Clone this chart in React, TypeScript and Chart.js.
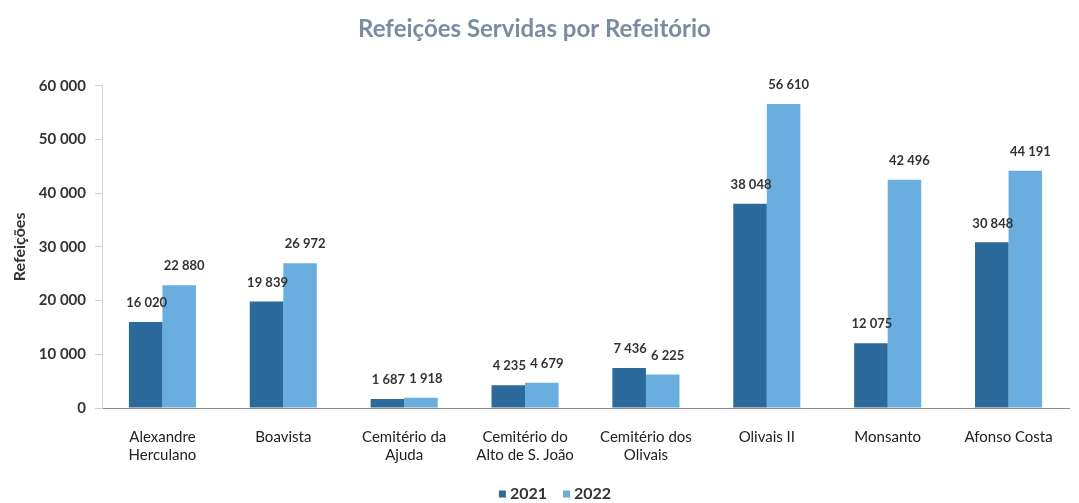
import React, { useEffect, useRef } from "react";
import { Chart, registerables } from "chart.js";

Chart.register(...registerables);

const categories: string[][] = [
  ["Alexandre", "Herculano"],
  ["Boavista"],
  ["Cemitério da", "Ajuda"],
  ["Cemitério do", "Alto de S. João"],
  ["Cemitério dos", "Olivais"],
  ["Olivais II"],
  ["Monsanto"],
  ["Afonso Costa"],
];
const values2021: number[] = [16020, 19839, 1687, 4235, 7436, 38048, 12075, 30848];
const values2022: number[] = [22880, 26972, 1918, 4679, 6225, 56610, 42496, 44191];
const seriesNames: string[] = ["2021", "2022"];
const yTicks: number[] = [0, 10000, 20000, 30000, 40000, 50000, 60000];

const FONT = "Lato, 'Open Sans', sans-serif";
const fmt = (v: number) => String(Math.round(v)).replace(/\B(?=(\d{3})+(?!\d))/g, " ");

const valueLabels = {
  id: "valueLabels",
  afterDatasetsDraw(chart: any) {
    const ctx = chart.ctx;
    ctx.save();
    ctx.font = `bold 13px ${FONT}`;
    ctx.fillStyle = "#333333";
    ctx.textAlign = "center";
    ctx.textBaseline = "middle";
    chart.data.datasets.forEach((ds: any, i: number) => {
      const meta = chart.getDatasetMeta(i);
      meta.data.forEach((el: any, j: number) => {
        const dx = i === 0 ? 1 : 5;
        ctx.fillText(fmt(ds.data[j]), el.x + dx, el.y - 19);
      });
    });
    ctx.restore();
  },
};

// Legend drawn in the canvas below the x labels
const customLegend = {
  id: "customLegend",
  afterDraw(chart: any) {
    const ctx = chart.ctx;
    ctx.save();
    ctx.font = `bold 16px ${FONT}`;
    ctx.textBaseline = "middle";
    ctx.textAlign = "left";
    const box = 7;
    const gapBox = 4;
    const gapItem = 16;
    const items = chart.data.datasets.map((ds: any) => ({
      text: ds.label,
      color: ds.backgroundColor,
      w: box + gapBox + ctx.measureText(ds.label).width,
    }));
    const total = items.reduce((a: number, it: any) => a + it.w, 0) + gapItem * (items.length - 1);
    let x = 555 - total / 2;
    const y = 494;
    items.forEach((it: any) => {
      ctx.fillStyle = it.color;
      ctx.fillRect(x, y - box / 2, box, box);
      ctx.fillStyle = "#333333";
      ctx.fillText(it.text, x + box + gapBox, y);
      x += it.w + gapItem;
    });
    ctx.restore();
  },
};

export default function App() {
  const ref = useRef<HTMLCanvasElement | null>(null);
  useEffect(() => {
    if (!ref.current) return;
    const chart = new Chart(ref.current, {
      type: "bar",
      data: {
        labels: categories,
        datasets: [
          {
            label: seriesNames[0],
            data: values2021,
            backgroundColor: "#2b6a9a",
            barPercentage: 1,
            categoryPercentage: 0.555,
          },
          {
            label: seriesNames[1],
            data: values2022,
            backgroundColor: "#6aaee0",
            barPercentage: 1,
            categoryPercentage: 0.555,
          },
        ],
      },
      options: {
        animation: false,
        responsive: false,
        maintainAspectRatio: false,
        layout: { padding: { left: 0, right: 10, top: 0, bottom: 27 } },
        plugins: {
          title: {
            display: true,
            text: "Refeições Servidas por Refeitório",
            color: "#7b8ca2",
            font: { family: FONT, size: 24, weight: "bold" },
            padding: { top: 15, bottom: 42 },
          },
          legend: { display: false },
          tooltip: { enabled: false },
        },
        scales: {
          x: {
            grid: { display: false },
            border: { display: true, color: "#8c8c8c", width: 1 },
            ticks: {
              color: "#222222",
              font: { family: FONT, size: 15 },
              padding: 12,
              maxRotation: 0,
              autoSkip: false,
            },
            afterFit: (s: any) => {
              s.height = 68;
            },
          },
          y: {
            min: 0,
            max: 60000,
            afterBuildTicks: (s: any) => {
              s.ticks = yTicks.map((v) => ({ value: v }));
            },
            grid: {
              drawOnChartArea: false,
              drawTicks: true,
              tickLength: 7,
              color: "#cfcfcf",
            },
            border: { display: true, color: "#d6d6d6" },
            ticks: {
              color: "#333333",
              font: { family: FONT, size: 15, weight: "bold" },
              padding: 9,
              callback: (v: any) => fmt(Number(v)),
            },
            title: {
              display: true,
              text: "Refeições",
              color: "#333333",
              font: { family: FONT, size: 16, weight: "bold" },
              padding: { top: 10, bottom: 0 },
            },
            afterFit: (s: any) => {
              s.width = 102;
            },
          },
        },
      },
      plugins: [valueLabels, customLegend],
    });
    return () => chart.destroy();
  }, []);
  return (
    <div style={{ position: "fixed", left: 0, top: 0, width: 1079, height: 503, background: "#fff" }}>
      <canvas ref={ref} width={1079} height={503} style={{ display: "block" }} />
    </div>
  );
}
